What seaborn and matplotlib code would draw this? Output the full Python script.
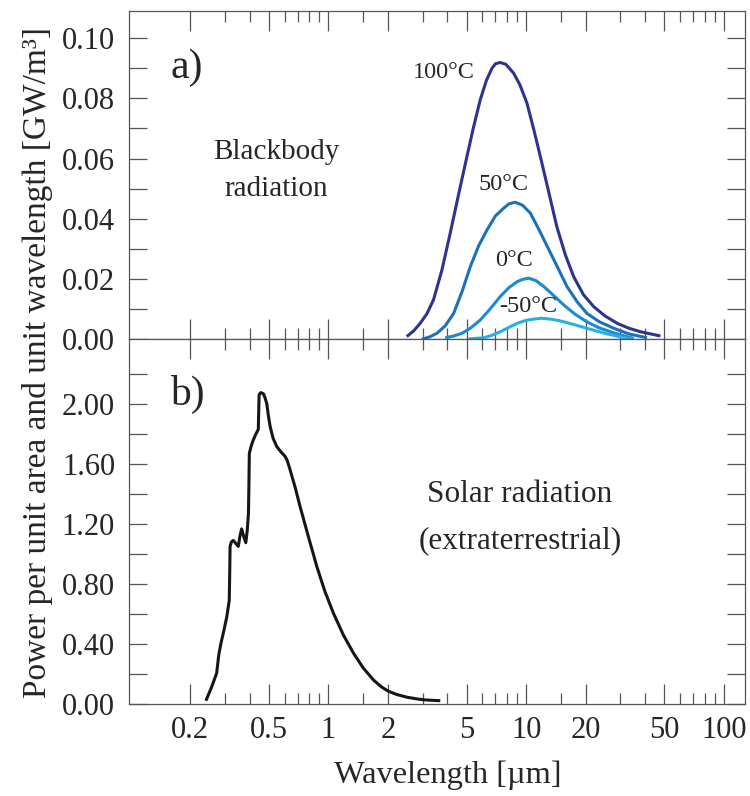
import numpy as np
import pandas as pd
import matplotlib
matplotlib.use("Agg")
import matplotlib.pyplot as plt
import seaborn as sns
from matplotlib.ticker import FixedLocator, FixedFormatter, NullFormatter

# ---------------- data ----------------
wl_100 = [2.49, 2.70, 2.91, 3.15, 3.40, 3.75, 4.13, 4.55, 5.02, 5.40, 5.86, 6.30, 6.72, 7.00, 7.40,
          7.90, 8.64, 9.30, 10.1, 10.9, 11.8, 13.0, 14.3, 15.8, 17.4, 19.5, 22.0, 25.0, 28.9, 33.0, 37.9, 47.8]
pw_100 = [0.0009, 0.0028, 0.0053, 0.0085, 0.0131, 0.0230, 0.0352, 0.0480, 0.0607, 0.0700, 0.0795, 0.0860, 0.0900, 0.0915, 0.0919,
          0.0913, 0.0884, 0.0845, 0.0784, 0.0700, 0.0607, 0.0490, 0.0374, 0.0280, 0.0208, 0.0148, 0.0108, 0.0078, 0.0053, 0.0037, 0.0025, 0.0011]

wl_50 = [2.97, 3.25, 3.54, 3.90, 4.30, 4.75, 5.22, 5.75, 6.34, 7.00, 7.69, 8.20, 8.82, 9.60, 10.5,
         11.6, 12.8, 14.4, 16.1, 18.1, 20.3, 23.5, 27.7, 33.0, 40.9]
pw_50 = [0.0000, 0.0008, 0.0020, 0.0045, 0.0086, 0.0160, 0.0241, 0.0310, 0.0363, 0.0410, 0.0435, 0.0450, 0.0455, 0.0445, 0.0419,
         0.0365, 0.0308, 0.0240, 0.0175, 0.0125, 0.0086, 0.0058, 0.0037, 0.0018, 0.0005]

wl_0 = [3.90, 4.30, 4.74, 5.25, 5.86, 6.60, 7.40, 8.20, 9.00, 9.60, 10.3, 11.2, 12.3, 13.8, 15.5,
        17.7, 20.3, 23.2, 26.7, 30.5, 35.0]
pw_0 = [0.0005, 0.0011, 0.0020, 0.0038, 0.0064, 0.0102, 0.0142, 0.0172, 0.0191, 0.0199, 0.0203, 0.0195, 0.0175, 0.0145, 0.0114,
        0.0083, 0.0058, 0.0039, 0.0025, 0.0013, 0.0003]

wl_m50 = [5.11, 6.09, 6.70, 7.40, 8.20, 9.00, 10.0, 10.9, 12.0, 13.3, 14.9, 17.0, 19.5, 22.3, 25.7, 30.0, 35.0]
pw_m50 = [0.0001, 0.0005, 0.0013, 0.0025, 0.0040, 0.0053, 0.0063, 0.0067, 0.0070, 0.0067, 0.0061, 0.0051, 0.0040, 0.0029, 0.0018, 0.0008, 0.0000]

wl_sun = [0.240, 0.256, 0.272, 0.279, 0.286, 0.296, 0.306, 0.315, 0.317, 0.318, 0.323, 0.330, 0.340,
          0.350, 0.357, 0.364, 0.372, 0.382, 0.388, 0.394, 0.396, 0.398, 0.407, 0.417, 0.430, 0.442,
          0.444, 0.446, 0.455, 0.469, 0.478, 0.488, 0.497, 0.507, 0.525, 0.548, 0.575, 0.604, 0.620,
          0.640, 0.680, 0.719, 0.790, 0.874, 0.960, 1.06, 1.19, 1.34, 1.50, 1.69, 1.85, 2.01, 2.22,
          2.50, 2.80, 3.04, 3.40, 3.68]
pw_sun = [0.022, 0.110, 0.205, 0.330, 0.405, 0.490, 0.580, 0.690, 0.900, 1.050, 1.080, 1.090, 1.070,
          1.050, 1.120, 1.167, 1.120, 1.075, 1.150, 1.270, 1.450, 1.670, 1.720, 1.760, 1.800, 1.830,
          1.950, 2.060, 2.075, 2.067, 2.040, 2.000, 1.920, 1.850, 1.770, 1.715, 1.680, 1.650, 1.620,
          1.560, 1.440, 1.315, 1.120, 0.915, 0.750, 0.605, 0.460, 0.338, 0.240, 0.160, 0.115, 0.085, 0.063,
          0.045, 0.034, 0.028, 0.024, 0.022]

curve_labels = ["100°C", "50°C", "0°C", "-50°C"]
curve_colors = ["#2b3590", "#1b72b8", "#1a8bd2", "#27b0e6"]

x_major = [0.2, 0.5, 1, 2, 5, 10, 20, 50, 100]
x_major_labels = ["0.2", "0.5", "1", "2", "5", "10", "20", "50", "100"]
x_minor = [0.3, 0.4, 0.6, 0.7, 0.8, 0.9, 1.5, 3, 4, 6, 7, 8, 9, 15, 30, 40, 60, 70, 80, 90]

top_yticks = [0.00, 0.02, 0.04, 0.06, 0.08, 0.10]
top_yminor = [0.01, 0.03, 0.05, 0.07, 0.09]
bot_yticks = [0.00, 0.40, 0.80, 1.20, 1.60, 2.00]
bot_yminor = [0.20, 0.60, 1.00, 1.40, 1.80, 2.20]

# ---------------- style ----------------
sns.set_theme(style="ticks")
plt.rcParams["font.family"] = ["Liberation Serif", "DejaVu Serif"]
plt.rcParams["axes.edgecolor"] = "#555555"
plt.rcParams["axes.linewidth"] = 0.9
plt.rcParams["lines.solid_joinstyle"] = "round"
plt.rcParams["lines.solid_capstyle"] = "butt"

W, H = 750, 796
fig = plt.figure(figsize=(W / 100, H / 100), dpi=100)

left, right = 129 / W, 745 / W
y_top, y_mid, y_bot = 1 - 11 / H, 1 - 339.3 / H, 1 - 704 / H
ax1 = fig.add_axes([left, y_mid, right - left, y_top - y_mid])
ax2 = fig.add_axes([left, y_bot, right - left, y_mid - y_bot])

tick_col = "#555555"
for ax in (ax1, ax2):
    ax.set_xscale("log")
    ax.set_xlim(0.098, 128)
    ax.xaxis.set_major_locator(FixedLocator(x_major))
    ax.xaxis.set_major_formatter(FixedFormatter(x_major_labels))
    ax.xaxis.set_minor_locator(FixedLocator(x_minor))
    ax.xaxis.set_minor_formatter(NullFormatter())
    ax.tick_params(axis="x", which="major", direction="in", length=14.5, width=0.9,
                   color=tick_col, top=True, bottom=True, labelsize=22, pad=9)
    ax.tick_params(axis="x", which="minor", direction="in", length=8, width=0.9,
                   color=tick_col, top=True, bottom=True)
    ax.tick_params(axis="y", which="both", direction="in", length=13, width=0.9,
                   color=tick_col, left=True, right=True, labelsize=22, pad=10)
    for s in ax.spines.values():
        s.set_visible(True)

# ---- top panel ----
series = [(wl_100, pw_100), (wl_50, pw_50), (wl_0, pw_0), (wl_m50, pw_m50)]
for (wl, pw), col in zip(series, curve_colors):
    sns.lineplot(x=wl, y=pw, ax=ax1, color=col, lw=2.2, sort=False, estimator=None)
ax1.set_ylim(0, 0.109)
ax1.yaxis.set_major_locator(FixedLocator(top_yticks))
ax1.yaxis.set_major_formatter(FixedFormatter([f"{v:.2f}" for v in top_yticks]))
ax1.yaxis.set_minor_locator(FixedLocator(top_yminor))
ax1.tick_params(axis="x", labelbottom=False)
ax1.set_xlabel("")
ax1.set_ylabel("")

fig.text(187 / W, 1 - 68 / H, "a)", fontsize=30, ha="center", va="center")
fig.text(276 / W, 1 - 152 / H, "Blackbody", fontsize=21, ha="center", va="center")
fig.text(276 / W, 1 - 189 / H, "radiation", fontsize=21, ha="center", va="center")

label_pos = [(444, 72), (503, 185), (514, 261), (528, 306)]
for (px, py), txt in zip(label_pos, curve_labels):
    fig.text(px / W, 1 - py / H, txt, fontsize=17.5, ha="center", va="center")

# ---- bottom panel ----
sns.lineplot(x=wl_sun, y=pw_sun, ax=ax2, color="#161616", lw=2.2, sort=False, estimator=None)
ax2.set_ylim(0, 2.43)
ax2.yaxis.set_major_locator(FixedLocator(bot_yticks))
ax2.yaxis.set_major_formatter(FixedFormatter([f"{v:.2f}" for v in bot_yticks]))
ax2.yaxis.set_minor_locator(FixedLocator(bot_yminor))
ax2.set_xlabel("")
ax2.set_ylabel("")

fig.text(187 / W, 1 - 394 / H, "b)", fontsize=30, ha="center", va="center")
fig.text(520 / W, 1 - 494 / H, "Solar radiation", fontsize=22.5, ha="center", va="center")
fig.text(520 / W, 1 - 541 / H, "(extraterrestrial)", fontsize=22.5, ha="center", va="center")

fig.text(448 / W, 1 - 775 / H, "Wavelength [µm]", fontsize=23.3, ha="center", va="center")
fig.text(38 / W, 1 - 362 / H, "Power per unit area and unit wavelength [GW/m³]",
         fontsize=24, ha="center", va="center", rotation=90)

fig.savefig("out.png", dpi=100)
